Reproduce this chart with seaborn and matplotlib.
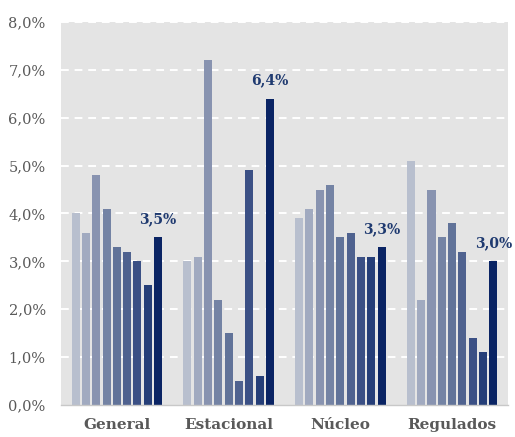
import matplotlib
matplotlib.use("Agg")
import matplotlib.pyplot as plt
import seaborn as sns
import pandas as pd
from matplotlib.ticker import FuncFormatter

# Inflation components, nine periods per component (percent)
categories = ["General", "Estacional", "Núcleo", "Regulados"]
general = [4.0, 3.6, 4.8, 4.1, 3.3, 3.2, 3.0, 2.5, 3.5]
estacional = [3.0, 3.1, 7.2, 2.2, 1.5, 0.5, 4.9, 0.6, 6.4]
nucleo = [3.9, 4.1, 4.5, 4.6, 3.5, 3.6, 3.1, 3.1, 3.3]
regulados = [5.1, 2.2, 4.5, 3.5, 3.8, 3.2, 1.4, 1.1, 3.0]
periods = [f"p{i}" for i in range(1, 10)]

palette = ["#B8BFCE", "#A1AAC0", "#8893B0", "#7483A4", "#617399",
           "#4F628F", "#3B5085", "#253E78", "#0A2464"]

series = [general, estacional, nucleo, regulados]
rows = []
for cat, vals in zip(categories, series):
    for p, v in zip(periods, vals):
        rows.append({"categoria": cat, "periodo": p, "valor": v})
df = pd.DataFrame(rows)

sns.set_style("white")
plt.rcParams["font.family"] = ["DejaVu Serif"]

fig = plt.figure(figsize=(5.15, 4.37), dpi=100)
ax = fig.add_axes([0.1184, 0.0732, 0.868, 0.8765])
ax.set_facecolor("#E4E4E4")

sns.barplot(data=df, x="categoria", y="valor", hue="periodo",
            palette=palette, width=0.83, gap=0.22, ax=ax,
            legend=False, saturation=1, edgecolor="none")

ax.set_ylim(0, 8)
ax.set_xlim(-0.5, 3.5)
ax.set_yticks(range(0, 9))
ax.yaxis.set_major_formatter(FuncFormatter(lambda v, _: f"{v:.1f}%".replace(".", ",")))
for y in range(1, 9):
    ax.axhline(y, color="white", lw=1.4, ls=(0, (4, 3)), zorder=0.5)
ax.set_axisbelow(True)

for s in ["top", "right", "left"]:
    ax.spines[s].set_visible(False)
ax.spines["bottom"].set_color("#C8C8C8")
ax.spines["bottom"].set_linewidth(1)

ax.tick_params(axis="y", length=0, labelsize=10.5, labelcolor="#595959", pad=11)
ax.tick_params(axis="x", length=0, labelsize=11, labelcolor="#595959", pad=9)
for lbl in ax.get_xticklabels():
    lbl.set_fontweight("bold")
ax.set_xlabel("")
ax.set_ylabel("")

# Value labels on the latest period of each component
last_container = ax.containers[-1]
for bar, vals in zip(last_container, series):
    ax.annotate(f"{vals[-1]:.1f}%".replace(".", ","),
                (bar.get_x() + bar.get_width() / 2, bar.get_height()),
                xytext=(0, 8), textcoords="offset points",
                ha="center", va="bottom", fontsize=10,
                fontweight="bold", color="#1F3A70")

fig.savefig("out.png", dpi=100)
